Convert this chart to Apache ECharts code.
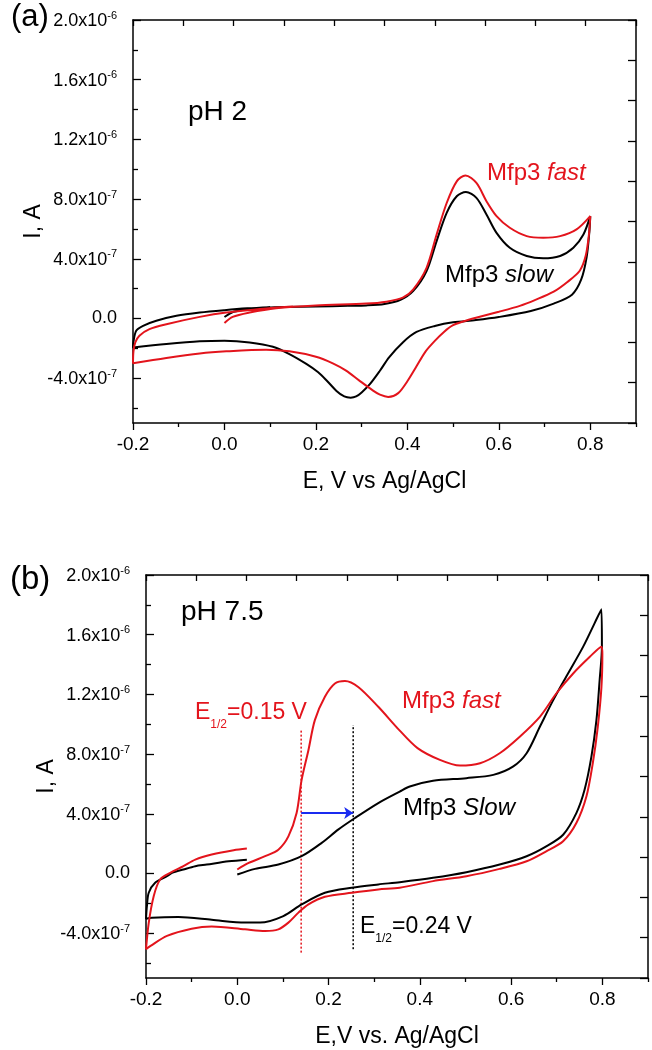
<!DOCTYPE html>
<html>
<head>
<meta charset="utf-8">
<script src="https://cdn.jsdelivr.net/npm/echarts@6/dist/echarts.min.js"></script>
<style>
  html, body { margin: 0; padding: 0; background: #fff; }
  #chart { width: 652px; height: 1050px; }
</style>
</head>
<body>
<div id="chart"></div>
<script>
// currents are in units of 1e-7 A, potentials in V vs Ag/AgCl
const potentialMajor = [-0.2, 0, 0.2, 0.4, 0.6, 0.8];
const potentialMinor = [-0.1, 0.1, 0.3, 0.5, 0.7, 0.9];
const currentMajor = [-4, 0, 4, 8, 12, 16, 20];
const currentMinor = [-6, -2, 2, 6, 10, 14, 18];

// (a) pH 2
const ph2Slow = [
  [0.0, 0.10], [0.02, 0.45], [0.055, 0.63], [0.11, 0.76], [0.2, 0.80], [0.27, 0.85], [0.31, 0.88],
  [0.35, 0.98], [0.385, 1.25], [0.413, 1.85], [0.442, 3.18], [0.464, 5.19], [0.486, 7.08],
  [0.508, 8.19], [0.528, 8.48], [0.551, 8.08], [0.573, 6.97], [0.595, 5.74], [0.624, 4.74],
  [0.661, 4.19], [0.697, 4.03], [0.734, 4.19], [0.763, 4.74], [0.785, 5.63], [0.8, 6.86],
  [0.798, 5.8], [0.792, 4.1], [0.78, 2.6], [0.76, 1.6], [0.72, 1.0], [0.67, 0.5], [0.6, 0.1],
  [0.55, -0.1], [0.5, -0.25], [0.46, -0.5], [0.42, -0.9], [0.39, -1.6], [0.36, -2.6], [0.34, -3.5],
  [0.318, -4.4], [0.3, -4.95], [0.288, -5.22], [0.276, -5.3], [0.262, -5.22], [0.245, -4.85],
  [0.225, -4.2], [0.205, -3.6], [0.179, -3.04], [0.142, -2.38], [0.106, -1.89], [0.055, -1.6],
  [0.0, -1.49], [-0.054, -1.53], [-0.127, -1.71], [-0.2, -1.94],
  [-0.199, -1.55], [-0.193, -0.82], [-0.178, -0.49], [-0.149, -0.15], [-0.105, 0.18],
  [-0.054, 0.4], [0.0, 0.56], [0.05, 0.68], [0.1, 0.76]
];
const ph2Fast = [
  [0.0, -0.3], [0.018, 0.11], [0.055, 0.4], [0.113, 0.69], [0.2, 0.88], [0.31, 1.0], [0.354, 1.13],
  [0.39, 1.4], [0.413, 1.96], [0.442, 3.4], [0.464, 5.63], [0.486, 7.74], [0.508, 9.19],
  [0.527, 9.59], [0.551, 9.08], [0.573, 7.86], [0.595, 6.86], [0.624, 6.08], [0.661, 5.52],
  [0.697, 5.41], [0.734, 5.52], [0.77, 5.97], [0.8, 6.86],
  [0.797, 5.6], [0.79, 4.2], [0.777, 3.2], [0.75, 2.45], [0.72, 1.8], [0.68, 1.25], [0.646, 0.85],
  [0.6, 0.45], [0.55, 0.05], [0.522, -0.2], [0.5, -0.45], [0.48, -0.9], [0.46, -1.5], [0.44, -2.2],
  [0.42, -3.2], [0.4, -4.2], [0.38, -5.0], [0.358, -5.25], [0.34, -5.1], [0.325, -4.83],
  [0.295, -4.16], [0.266, -3.49], [0.237, -3.0], [0.2, -2.56], [0.142, -2.2], [0.091, -2.09],
  [0.004, -2.2], [-0.054, -2.34], [-0.127, -2.64], [-0.2, -3.0],
  [-0.199, -2.2], [-0.195, -1.6], [-0.186, -1.15], [-0.164, -0.71], [-0.127, -0.38],
  [-0.054, 0.11], [0.004, 0.4], [0.092, 0.67], [0.15, 0.8]
];

// (b) pH 7.5
const ph75Slow = [
  [0.0, -0.07], [0.039, 0.31], [0.09, 0.6], [0.141, 1.16], [0.185, 2.05], [0.221, 2.94],
  [0.258, 3.72], [0.309, 4.72], [0.356, 5.49], [0.378, 5.83], [0.429, 6.21], [0.502, 6.39],
  [0.561, 6.61], [0.604, 7.16], [0.634, 8.06], [0.663, 9.83], [0.692, 11.6], [0.721, 13.2],
  [0.758, 15.2], [0.798, 17.7],
  [0.799, 15.2], [0.794, 12.95], [0.787, 10.28], [0.776, 7.83], [0.761, 5.61], [0.743, 4.05],
  [0.714, 2.6], [0.677, 1.82], [0.634, 1.16], [0.575, 0.6], [0.502, 0.09], [0.429, -0.29],
  [0.356, -0.58], [0.309, -0.73], [0.251, -0.95], [0.192, -1.29], [0.141, -2.07], [0.101, -2.85],
  [0.05, -3.29], [0.017, -3.29], [-0.056, -3.1], [-0.129, -2.92], [-0.187, -2.96], [-0.2, -3.03],
  [-0.198, -2.18], [-0.194, -1.29], [-0.18, -0.62], [-0.154, -0.18], [-0.143, 0.04],
  [-0.118, 0.27], [-0.092, 0.49], [-0.067, 0.6], [-0.019, 0.82], [0.021, 0.93]
];
const ph75Fast = [
  [0.0, 0.27], [0.025, 0.71], [0.061, 1.16], [0.09, 1.6], [0.112, 2.49], [0.13, 4.05],
  [0.141, 6.27], [0.156, 8.28], [0.17, 10.28], [0.192, 11.84], [0.214, 12.73], [0.236, 12.9],
  [0.265, 12.5], [0.309, 11.17], [0.355, 9.61], [0.395, 8.4], [0.444, 7.61], [0.488, 7.23],
  [0.532, 7.39], [0.575, 8.06], [0.619, 9.17], [0.663, 10.5], [0.699, 12.06], [0.736, 13.4],
  [0.772, 14.5], [0.798, 15.2],
  [0.8, 14.7], [0.798, 12.5], [0.79, 9.83], [0.779, 7.39], [0.765, 5.16], [0.743, 3.38],
  [0.714, 2.16], [0.677, 1.49], [0.634, 0.82], [0.575, 0.31], [0.502, -0.18], [0.429, -0.51],
  [0.356, -0.95], [0.309, -1.07], [0.251, -1.29], [0.192, -1.56], [0.156, -2.07], [0.134, -2.62],
  [0.112, -3.29], [0.09, -3.74], [0.061, -3.85], [0.017, -3.74], [-0.056, -3.55], [-0.1, -3.7],
  [-0.154, -4.18], [-0.19, -4.85], [-0.2, -5.07],
  [-0.194, -3.3], [-0.183, -1.5], [-0.169, -0.4], [-0.147, 0.04], [-0.118, 0.49],
  [-0.092, 0.93], [-0.056, 1.27], [-0.008, 1.56], [0.021, 1.67]
];

// E1/2 markers and the shift arrow in (b)
const fastHalfWave = [[0.14, -5.3], [0.14, 9.7]];
const slowHalfWave = [[0.254, -5.07], [0.254, 9.95]];
const halfWaveShift = [[0.14, 4.05], [0.254, 4.05]];

const RED = '#e3141c';
const FONT = 'Liberation Sans, Arial, sans-serif';

function currentLabel(v) {
  if (v === 0) return '{m|0.0}';
  const big = Math.abs(v) >= 10;
  const mant = big ? v / 10 : v;
  return '{m|' + mant.toFixed(1) + 'x10}{e|' + (big ? -6 : -7) + '}';
}

const chart = echarts.init(document.getElementById('chart'));

const grids = [
  { left: 133, top: 20, width: 503, height: 403 },
  { left: 146, top: 575, width: 502, height: 403 }
];
const xNames = ['E, V vs Ag/AgCl', 'E,V vs. Ag/AgCl'];
const frameLine = { show: true, onZero: false, lineStyle: { color: '#000', width: 1.5 } };

const xAxes = [];
const yAxes = [];
grids.forEach((g, i) => {
  xAxes.push({
    type: 'value', gridIndex: i, min: -0.2, max: 0.9, position: 'bottom',
    name: xNames[i], nameLocation: 'middle', nameGap: 47, nameMoveOverlap: false,
    nameTextStyle: { fontSize: 23, color: '#000', fontFamily: FONT },
    axisLine: frameLine,
    axisTick: { show: true, inside: false, length: 7, customValues: potentialMajor, lineStyle: { color: '#000', width: 1.3 } },
    axisLabel: { show: true, customValues: potentialMajor, margin: 12, fontSize: 19, color: '#000', fontFamily: FONT,
      formatter: v => v.toFixed(1) },
    splitLine: { show: false }
  });
  xAxes.push({
    type: 'value', gridIndex: i, min: -0.2, max: 0.9, position: 'bottom',
    axisLine: { show: false, onZero: false },
    axisTick: { show: true, inside: false, length: 4, customValues: potentialMinor, lineStyle: { color: '#000', width: 1.3 } },
    axisLabel: { show: false }, splitLine: { show: false }
  });
  xAxes.push({
    type: 'value', gridIndex: i, min: 0, max: 10, interval: 1, position: 'top',
    axisLine: frameLine,
    axisTick: { show: true, inside: true, length: 6, lineStyle: { color: '#000', width: 1.3 } },
    axisLabel: { show: false }, splitLine: { show: false }
  });

  yAxes.push({
    type: 'value', gridIndex: i, min: -7, max: 20, position: 'left',
    name: 'I, A', nameLocation: 'middle', nameGap: 88, nameRotate: 90, nameMoveOverlap: false,
    nameTextStyle: { fontSize: 23, color: '#000', fontFamily: FONT },
    axisLine: frameLine,
    axisTick: { show: true, inside: true, length: 8, customValues: currentMajor, lineStyle: { color: '#000', width: 1.3 } },
    axisLabel: { show: true, customValues: currentMajor, margin: 16, formatter: currentLabel,
      rich: {
        m: { fontSize: 18, color: '#000', fontFamily: FONT, verticalAlign: 'bottom' },
        e: { fontSize: 11, color: '#000', fontFamily: FONT, verticalAlign: 'bottom', padding: [0, 0, 9, 0] }
      } },
    splitLine: { show: false }
  });
  yAxes.push({
    type: 'value', gridIndex: i, min: -7, max: 20, position: 'left',
    axisLine: { show: false, onZero: false },
    axisTick: { show: true, inside: true, length: 5, customValues: currentMinor, lineStyle: { color: '#000', width: 1.3 } },
    axisLabel: { show: false }, splitLine: { show: false }
  });
  yAxes.push({
    type: 'value', gridIndex: i, min: 0, max: 10, interval: 1, position: 'right',
    axisLine: frameLine,
    axisTick: { show: true, inside: true, length: 8, lineStyle: { color: '#000', width: 1.3 } },
    axisLabel: { show: false }, splitLine: { show: false }
  });
});

function cvSeries(data, panel, color) {
  return {
    type: 'line', data: data, xAxisIndex: panel * 3, yAxisIndex: panel * 3,
    showSymbol: false, smooth: 0.3, clip: false,
    lineStyle: { color: color, width: 2 }, itemStyle: { color: color }, z: 3
  };
}
function markerSeries(data, color) {
  return {
    type: 'line', data: data, xAxisIndex: 3, yAxisIndex: 3, showSymbol: false,
    lineStyle: { color: color, width: 1.5, type: [2, 2] }, z: 2
  };
}

const txt = (extra) => Object.assign({ fontFamily: FONT, verticalAlign: 'middle', align: 'left' }, extra);
const subRich = (color) => ({
  n: { fontSize: 23, fill: color, fontFamily: FONT, verticalAlign: 'bottom', padding: [0, 0, 6, 0] },
  s: { fontSize: 12, fill: color, fontFamily: FONT, verticalAlign: 'bottom' }
});
const italRich = (color) => ({
  n: { fontSize: 24, fill: color, fontFamily: FONT },
  i: { fontSize: 24, fill: color, fontFamily: FONT, fontStyle: 'italic' }
});

chart.setOption({
  animation: false,
  backgroundColor: '#fff',
  grid: grids,
  xAxis: xAxes,
  yAxis: yAxes,
  series: [
    cvSeries(ph2Slow, 0, '#000'),
    cvSeries(ph2Fast, 0, RED),
    markerSeries(fastHalfWave, RED),
    markerSeries(slowHalfWave, '#000'),
    {
      type: 'lines', coordinateSystem: 'cartesian2d', xAxisIndex: 3, yAxisIndex: 3,
      symbol: ['none', 'arrow'], symbolSize: 9,
      lineStyle: { color: '#1a2bf0', width: 2, opacity: 1 },
      data: [{ coords: halfWaveShift }], z: 4
    },
    cvSeries(ph75Slow, 1, '#000'),
    cvSeries(ph75Fast, 1, RED)
  ],
  graphic: [
    { type: 'text', style: txt({ text: '(a)', x: 11, y: 17, fontSize: 31, fill: '#000' }) },
    { type: 'text', style: txt({ text: '(b)', x: 10, y: 580, fontSize: 33, fill: '#000' }) },
    { type: 'text', style: txt({ text: 'pH 2', x: 188, y: 112, fontSize: 28, fill: '#000' }) },
    { type: 'text', style: txt({ text: 'pH 7.5', x: 181, y: 612, fontSize: 28, fill: '#000' }) },
    { type: 'text', style: txt({ text: '{n|Mfp3 }{i|fast}', x: 487, y: 173, rich: italRich(RED) }) },
    { type: 'text', style: txt({ text: '{n|Mfp3 }{i|slow}', x: 445, y: 275, rich: italRich('#000') }) },
    { type: 'text', style: txt({ text: '{n|Mfp3 }{i|fast}', x: 402, y: 701, rich: italRich(RED) }) },
    { type: 'text', style: txt({ text: '{n|Mfp3 }{i|Slow}', x: 403, y: 808, rich: italRich('#000') }) },
    { type: 'text', style: txt({ text: '{n|E}{s|1/2}{n|=0.15 V}', x: 195, y: 716, rich: subRich(RED) }) },
    { type: 'text', style: txt({ text: '{n|E}{s|1/2}{n|=0.24 V}', x: 360, y: 930, rich: subRich('#000') }) }
  ]
});
</script>
</body>
</html>
